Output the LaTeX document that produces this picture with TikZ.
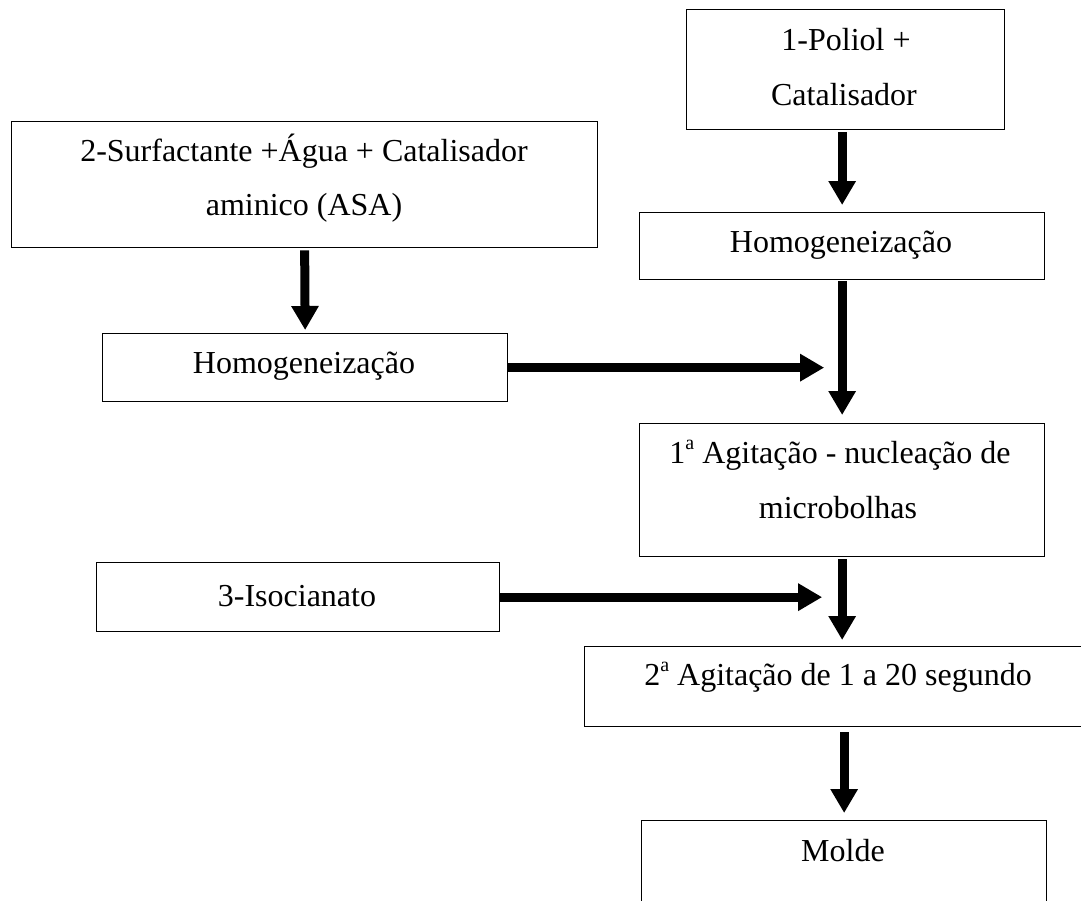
\documentclass[tikz,border=0pt]{standalone}
\usepackage{fontspec}
\setmainfont{Liberation Serif}
\usetikzlibrary{arrows.meta,calc}
% raised ordinal "a" as in 1ª / 2ª
\newcommand\ordsup{\raisebox{0.42em}{\fontsize{20}{20}\selectfont a}}
\begin{document}
\begin{tikzpicture}[x=1pt,y=-1pt,
  box/.style={draw=black, line width=1.3pt, inner sep=0pt, anchor=north west},
  txt/.style={anchor=base, inner sep=0pt, font=\fontsize{32}{55}\selectfont},
  flow/.style={line width=9pt, line cap=butt, -{Triangle[length=24pt,width=26pt]}}]
\useasboundingbox (0,0) rectangle (1081,900);
\clip (0,0) rectangle (1081,900);

% process boxes
\node[box, minimum width=318pt, minimum height=120pt] (b1) at (686,9) {};
\node[box, minimum width=586pt, minimum height=126pt] (b2) at (11,121) {};
\node[box, minimum width=405pt, minimum height=67pt]  (b3) at (639,212) {};
\node[box, minimum width=405pt, minimum height=68pt]  (b4) at (102,333) {};
\node[box, minimum width=405pt, minimum height=133pt] (b5) at (639,423) {};
\node[box, minimum width=403pt, minimum height=69pt]  (b6) at (96,562) {};
\node[box, minimum width=506pt, minimum height=80pt]  (b7) at (584,646) {};
\node[box, minimum width=405pt, minimum height=110pt] (b8) at (641,820) {};

% box texts
\node[txt] (t1a) at (846,50)  {1-Poliol +};
\node[txt] (t1b) at (844,105) {Catalisador};
\node[txt] (t2a) at (304,161) {2-Surfactante +Água + Catalisador};
\node[txt] (t2b) at (304,215) {aminico (ASA)};
\node[txt] (t3)  at (841,252) {Homogeneização};
\node[txt] (t4)  at (304,373) {Homogeneização};
\node[txt] (t5a) at (840,463) {1\ordsup{} Agitação - nucleação de};
\node[txt] (t5b) at (838,518) {microbolhas};
\node[txt] (t6)  at (297,606) {3-Isocianato};
\node[txt] (t7)  at (838,685) {2\ordsup{} Agitação de 1 a 20 segundo};
\node[txt] (t8)  at (843,861) {Molde};

% flow arrows
\draw[flow] ($(b3.north |- b1.south)+(0,2)$) -- ($(b3.north)+(0,-7)$);
\draw[flow] ($(b2.south)+(0,2)$) -- ($(b4.north)+(0,-3)$);
\draw[flow] ($(b3.south)+(0,1)$) -- ($(b5.north)+(0,-8)$);
\draw[flow] (b4.east) -- ($(b4.east -| b3.south)+(-18,0)$);
\draw[flow] ($(b5.south)+(0,2)$) -- ($(b5.south |- b7.north)+(0,-6)$);
\draw[flow] (b6.east) -- ($(b6.east -| b5.south)+(-20,0)$);
\draw[flow] ($(b8.north |- b7.south)+(0,5)$) -- ($(b8.north)+(0,-7)$);
\end{tikzpicture}
\end{document}
